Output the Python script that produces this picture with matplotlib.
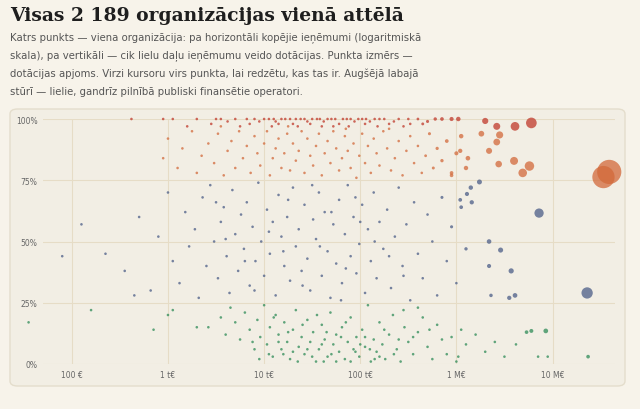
import numpy as np
import matplotlib
matplotlib.use("Agg")
import matplotlib.pyplot as plt
from matplotlib.patches import FancyBboxPatch

# (log10 revenue EUR, grant share %)
red_pts = "2.62,100 2.95,100 3.05,100 3.3,100 3.5,100 3.62,99 3.7,100 3.82,100 3.9,100 3.95,99 4.0,100 4.05,100 4.1,100 4.12,99 4.18,100 4.22,100 4.27,100 4.3,98 4.33,100 4.38,100 4.42,100 4.45,99 4.5,100 4.55,100 4.58,100 4.62,99 4.66,100 4.7,100 4.74,100 4.78,98 4.82,100 4.86,100 4.9,100 4.94,99 4.98,100 5.02,100 5.06,100 5.1,99 5.15,100 5.2,100 5.25,100 5.3,98 5.4,100 5.5,100 5.6,100 5.7,99 5.78,100 5.85,100 5.95,100 6.02,100 3.2,97 3.45,98 3.75,97 4.08,97 4.35,97 4.6,97 4.88,97 5.18,97 5.45,97 5.65,98 3.55,100 3.85,98 4.15,98 4.48,98 4.72,97 5.05,98 5.35,99 5.52,98 6.30,99.2 6.42,97 6.61,97 6.78,98.4"
orange_pts = "2.95,84 3.0,92 3.1,80 3.15,88 3.25,95 3.3,78 3.35,85 3.42,90 3.48,82 3.52,94 3.58,77 3.62,87 3.66,91 3.7,80 3.74,95 3.78,84 3.82,89 3.86,78 3.9,93 3.93,86 3.96,81 4.0,90 4.03,95 4.06,77 4.09,84 4.12,88 4.15,92 4.18,80 4.21,86 4.24,94 4.27,79 4.3,90 4.33,83 4.36,87 4.39,95 4.42,78 4.45,92 4.48,85 4.51,81 4.54,89 4.57,94 4.6,77 4.63,86 4.66,91 4.69,82 4.72,95 4.75,88 4.78,79 4.81,84 4.84,93 4.87,87 4.9,80 4.93,90 4.96,76 4.99,85 5.02,94 5.05,82 5.08,89 5.11,78 5.14,92 5.17,86 5.2,81 5.24,95 5.28,88 5.32,79 5.36,84 5.4,91 5.44,77 5.48,87 5.52,93 5.56,82 5.6,89 5.64,78 5.68,85 5.72,94 5.76,80 5.8,88 5.85,83 5.9,91 5.95,77 6.0,86 6.05,93 6.1,80 3.55,97 4.25,97 4.85,96 5.3,96 6.26,94 6.45,93.5 6.42,90.6 6.34,87 6.60,82.9 6.44,81.6 6.76,80.8 6.69,78 6.04,87 6.12,84 5.95,78 7.59,78.4 7.53,76.3"
blue_pts = "2.35,45 2.55,38 2.7,60 2.82,30 2.9,52 3.0,70 3.05,42 3.12,33 3.18,62 3.22,48 3.28,55 3.32,27 3.36,68 3.4,40 3.44,73 3.48,50 3.52,35 3.55,58 3.58,64 3.61,44 3.64,29 3.67,71 3.7,53 3.73,38 3.76,61 3.79,47 3.82,66 3.85,32 3.88,56 3.91,42 3.94,74 3.97,50 4.0,36 4.03,63 4.06,45 4.09,58 4.12,28 4.15,69 4.18,52 4.21,40 4.24,60 4.27,34 4.3,72 4.33,48 4.36,55 4.39,38 4.42,65 4.45,43 4.48,30 4.51,59 4.54,51 4.57,70 4.6,36 4.63,62 4.66,46 4.69,27 4.72,57 4.75,41 4.78,67 4.81,33 4.84,53 4.87,73 4.9,44 4.93,60 4.96,37 4.99,49 5.02,65 5.05,29 5.08,55 5.11,42 5.14,70 5.17,35 5.2,58 5.24,47 5.28,63 5.32,31 5.36,52 5.4,72 5.44,40 5.48,57 5.52,26 5.56,66 5.6,45 5.65,35 5.7,61 5.75,50 5.8,28 5.85,68 5.9,42 5.95,56 6.0,33 6.05,64 6.1,47 6.15,72 3.5,66 3.9,30 4.05,54 4.25,67 4.4,32 4.58,48 4.7,62 4.85,39 5.0,58 5.15,50 5.3,44 4.2,46 4.5,73 4.8,26 3.6,51 3.8,42 4.95,68 5.45,36 2.65,28 1.9,44 2.1,57 6.24,74.3 6.11,69.4 6.16,66 6.04,67 6.34,50 6.46,46.5 6.34,40 6.57,38 6.61,28 6.55,27 6.36,28 6.86,61.6 7.36,29"
green_pts = "1.55,17 2.2,22 2.85,14 3.0,20 3.05,22 3.3,15 3.42,15 3.55,19 3.6,12 3.65,23 3.7,17 3.75,10 3.8,21 3.85,14 3.9,6 3.93,18 3.96,11 4.0,24 4.03,8 4.06,15 4.09,3 4.12,20 4.15,12 4.18,6 4.21,17 4.24,9 4.27,2 4.3,14 4.33,22 4.36,7 4.39,11 4.42,4 4.45,18 4.48,9 4.51,13 4.54,1 4.57,6 4.6,16 4.63,10 4.66,3 4.69,21 4.72,8 4.75,12 4.78,5 4.81,15 4.84,2 4.87,9 4.9,19 4.93,6 4.96,11 4.99,3 5.02,14 5.05,7 5.08,24 5.11,1 5.14,10 5.17,5 5.2,17 5.23,8 5.26,2 5.3,12 5.34,20 5.38,6 5.42,1 5.46,15 5.5,9 5.55,4 5.6,13 5.65,19 5.7,7 5.75,2 5.8,16 5.85,10 5.9,4 5.95,11 6.0,1 6.05,14 6.1,8 6.2,12 6.3,5 6.4,9 6.5,3 6.62,8 6.85,3 3.95,2 4.1,19 4.25,13 4.35,1 4.45,6 4.55,20 4.65,13 4.75,1 4.85,17 4.95,5 5.05,11 5.15,2 5.25,14 5.35,4 5.45,22 5.55,11 4.2,4 4.4,16 4.6,8 4.8,11 5.0,8 5.2,3 5.4,10 4.3,5 4.5,3 4.7,4 4.9,1 4.15,9 4.62,1 5.1,6 3.88,9 4.05,4 5.6,23 5.72,14 6.02,3 7.37,3 6.73,13 6.78,13.5 6.93,13.5 6.95,3"

x_ticks = [2, 3, 4, 5, 6, 7]
x_labels = ["100 €", "1 t€", "10 t€", "100 t€", "1 M€", "10 M€"]
y_ticks = [0, 25, 50, 75, 100]
y_labels = ["0%", "25%", "50%", "75%", "100%"]

groups = [(red_pts, "#c0392b"), (orange_pts, "#d2693a"),
          (blue_pts, "#4b5d87"), (green_pts, "#2e8b57")]

def parse(s):
    a = np.array([[float(v) for v in p.split(",")] for p in s.split()])
    return 10 ** a[:, 0], a[:, 1]

fig = plt.figure(figsize=(6.4, 4.1), dpi=100)
fig.patch.set_facecolor("#f7f3ea")
panel = FancyBboxPatch((10/640, 1-387/410), 615/640, 277/410,
                       boxstyle="round,pad=0,rounding_size=0.012",
                       transform=fig.transFigure, facecolor="#f2eee4",
                       edgecolor="#e4ddcc", linewidth=1, zorder=-5)
fig.patches.append(panel)

fig.text(10/640, 1-16/410, "Visas 2 189 organizācijas vienā attēlā",
         family="DejaVu Serif", weight="bold", fontsize=13.5, va="center", color="#1e1e1e")
sub = ["Katrs punkts — viena organizācija: pa horizontāli kopējie ieņēmumi (logaritmiskā",
       "skala), pa vertikāli — cik lielu daļu ieņēmumu veido dotācijas. Punkta izmērs —",
       "dotācijas apjoms. Virzi kursoru virs punkta, lai redzētu, kas tas ir. Augšējā labajā",
       "stūrī — lielie, gandrīz pilnībā publiski finansētie operatori."]
for i, line in enumerate(sub):
    fig.text(10/640, 1-(38+i*18)/410, line, fontsize=7.3, color="#555555", va="center")

ax = fig.add_axes([43/640, 1-365/410, 572/640, 245/410])
ax.set_zorder(5)
ax.set_facecolor("none")
ax.set_xscale("log")
ax.set_xlim(10**1.70, 10**7.65)
ax.set_ylim(0, 100)
for s in ax.spines.values():
    s.set_visible(False)
ax.set_xticks([10**t for t in x_ticks])
ax.set_xticklabels(x_labels)
ax.xaxis.set_minor_locator(matplotlib.ticker.NullLocator())
ax.set_yticks(y_ticks)
ax.set_yticklabels(y_labels)
ax.tick_params(length=0, labelsize=5.5, colors="#666666", pad=4)
ax.grid(True, color="#e6dcc6", linewidth=0.8)
ax.set_axisbelow(True)

for pts, col in groups:
    x, y = parse(pts)
    g = x * y / 100.0
    r = np.maximum(1.3, 12 * np.sqrt(g / 3e7))
    s = (2 * r * 0.72) ** 2
    ax.scatter(x, y, s=s, c=col, alpha=0.75, linewidths=0, clip_on=False, zorder=3)

fig.savefig("out.png", dpi=100, facecolor=fig.get_facecolor())
